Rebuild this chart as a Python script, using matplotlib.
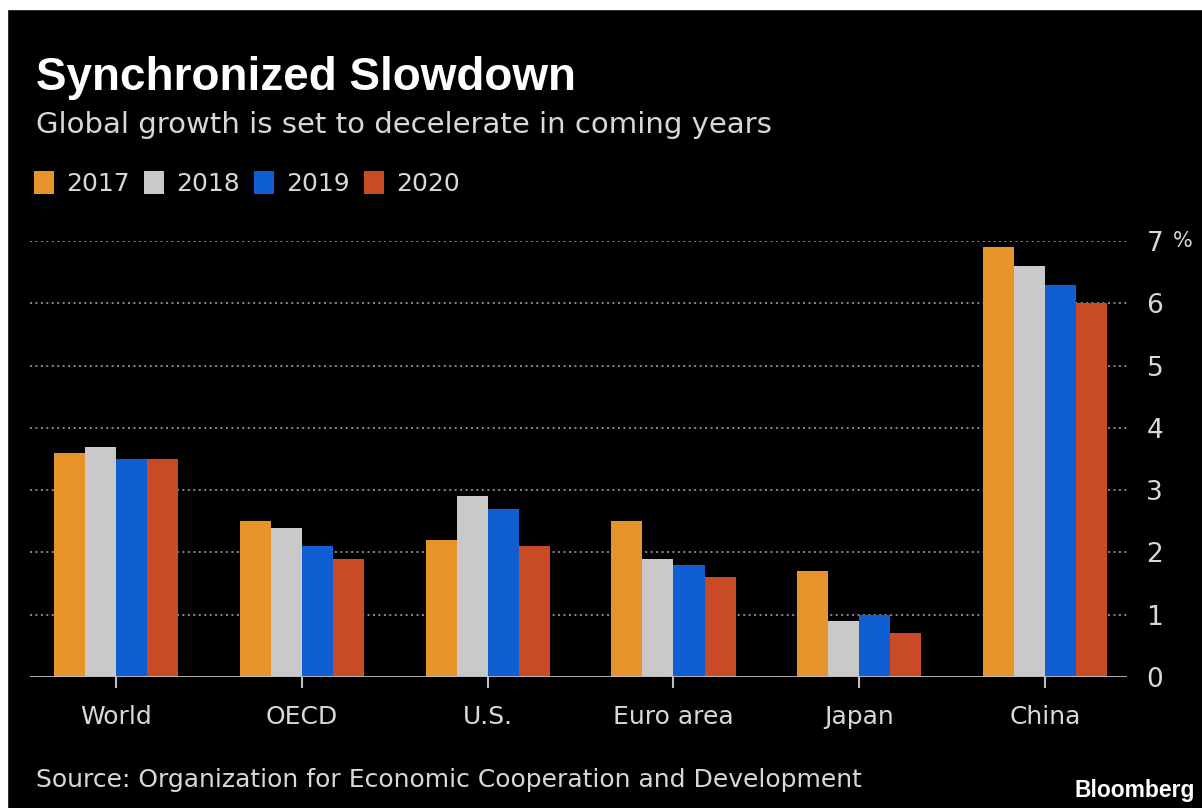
import numpy as np
import matplotlib.pyplot as plt
from matplotlib.patches import Rectangle

regions = ['World', 'OECD', 'U.S.', 'Euro area', 'Japan', 'China']
years = ['2017', '2018', '2019', '2020']
growth_2017 = [3.6, 2.5, 2.2, 2.5, 1.7, 6.9]
growth_2018 = [3.7, 2.4, 2.9, 1.9, 0.9, 6.6]
growth_2019 = [3.5, 2.1, 2.7, 1.8, 1.0, 6.3]
growth_2020 = [3.5, 1.9, 2.1, 1.6, 0.7, 6.0]
y_ticks = [0, 1, 2, 3, 4, 5, 6, 7]
y_labels = ['0', '1', '2', '3', '4', '5', '6', '7']

colors = ['#E8922A', '#C9C9C9', '#0F5FD2', '#C84B26']
txt = '#D8D8D8'
plt.rcParams['font.family'] = ['DejaVu Sans']

fig = plt.figure(figsize=(12.02, 8.08), dpi=100, facecolor='black')
# thin white frame at top / left like the screenshot
fig.patches.append(Rectangle((0, 1 - 9 / 808), 1, 9 / 808, transform=fig.transFigure,
                             color='white', zorder=10))
fig.patches.append(Rectangle((0, 0), 7 / 1202, 1, transform=fig.transFigure,
                             color='white', zorder=10))

ax = fig.add_axes([30 / 1202, 1 - 677 / 808, 1097 / 1202, 436 / 808])
ax.set_facecolor('black')

x = np.arange(len(regions))
w = 0.167
series = [growth_2017, growth_2018, growth_2019, growth_2020]
handles = []
for i, vals in enumerate(series):
    b = ax.bar(x + (i - 1.5) * w, vals, width=w, color=colors[i], zorder=3, label=years[i])
    handles.append(b)

ax.set_ylim(0, 7)
ax.set_xlim(-0.462, 5.44)

for v in y_ticks[1:]:
    ax.axhline(v, color='#8A8A8A', lw=1.4, ls=(0, (1, 1.8)), zorder=1)
ax.axhline(0, color='#BDBDBD', lw=2, zorder=4)

for s in ax.spines.values():
    s.set_visible(False)

ax.yaxis.tick_right()
ax.set_yticks(y_ticks)
ax.set_yticklabels(y_labels, fontsize=19, color=txt)
ax.tick_params(axis='y', length=0, pad=14)
ax.text(1.042, 7, '%', transform=ax.get_yaxis_transform(), fontsize=15,
        color=txt, va='center', ha='left')

ax.set_xticks(x)
ax.set_xticklabels(regions, fontsize=18, color=txt)
ax.tick_params(axis='x', length=8, width=1.5, color='#BDBDBD', pad=12)

fig.text(36 / 1202, 1 - 90 / 808, 'Synchronized Slowdown', fontsize=33, fontweight='bold',
         color='white', family=['Liberation Sans', 'DejaVu Sans'])
fig.text(36 / 1202, 1 - 133 / 808, 'Global growth is set to decelerate in coming years',
         fontsize=21, color=txt)

fig.legend(handles=handles, labels=years, loc='lower left',
           bbox_to_anchor=(34 / 1202, 1 - 196 / 808), ncol=4, frameon=False,
           fontsize=18, labelcolor=txt, handlelength=0.8, handleheight=1.0,
           handletextpad=0.5, columnspacing=0.55, borderpad=0, borderaxespad=0)

fig.text(36 / 1202, 1 - 787 / 808,
         'Source: Organization for Economic Cooperation and Development',
         fontsize=18, color=txt)
fig.text(1195 / 1202, 1 - 797 / 808, 'Bloomberg', fontsize=16.5, fontweight='bold',
         color='white', ha='right', family=['Liberation Sans', 'DejaVu Sans'])

fig.savefig('out.png', dpi=100, facecolor='black')
